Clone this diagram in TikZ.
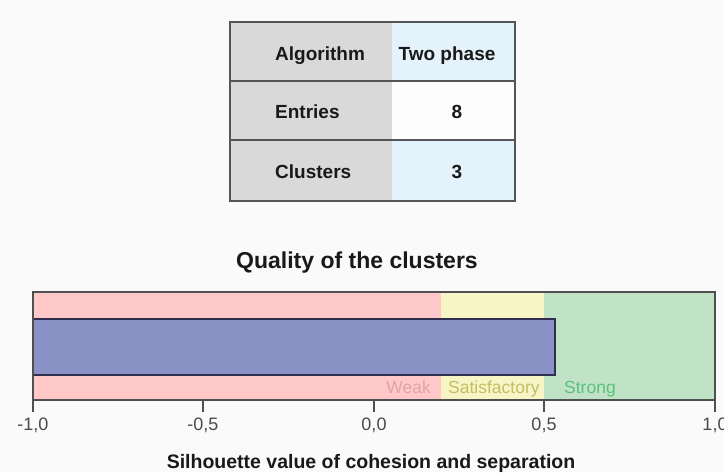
\documentclass[tikz,border=0pt]{standalone}
\usepackage{fontspec}
\setmainfont{Liberation Sans}
\definecolor{bg}{HTML}{FAFAFA}
\definecolor{cellgrey}{HTML}{D9D9D9}
\definecolor{cellblue}{HTML}{E4F2FB}
\definecolor{cellwhite}{HTML}{FDFDFD}
\definecolor{tborder}{HTML}{555555}
\definecolor{weakfill}{HTML}{FFC9C9}
\definecolor{satfill}{HTML}{F7F5C6}
\definecolor{strongfill}{HTML}{C0E3C8}
\definecolor{barfill}{HTML}{8A91C5}
\definecolor{barline}{HTML}{2E2E4E}
\definecolor{axisline}{HTML}{505050}
\definecolor{weaktext}{HTML}{E2A2AA}
\definecolor{sattext}{HTML}{C4BE62}
\definecolor{strongtext}{HTML}{5DC07C}
\definecolor{ticktext}{HTML}{4A4A4A}
\begin{document}
\begin{tikzpicture}[x=1pt,y=-1pt,
  celltext/.style={inner sep=0pt,font=\fontsize{19}{22}\selectfont\bfseries,text=black!90},
  zonetext/.style={inner sep=0pt,anchor=base,font=\fontsize{17.5}{21}\selectfont},
  ticklabel/.style={inner sep=0pt,anchor=base,font=\fontsize{18}{21}\selectfont,text=ticktext},
  tickmark/.style={draw=axisline,line width=1.6pt},
  headline/.style={inner sep=0pt,anchor=base,font=\bfseries,text=black!90}]
\fill[bg] (0,0) rectangle (724,472);
\useasboundingbox (0,0) rectangle (724,472);
% ---- table ----
\fill[cellgrey] (230,22) rectangle (392,201);
\fill[cellblue] (392,22) rectangle (515,81);
\fill[cellwhite] (392,81) rectangle (515,140);
\fill[cellblue] (392,140) rectangle (515,201);
\draw[tborder,line width=1.6pt] (230,81) -- (515,81);
\draw[tborder,line width=1.6pt] (230,140) -- (515,140);
\draw[tborder,line width=1.8pt] (230,22) rectangle (515,201);
\node[celltext,anchor=base west] (alg) at (275,60) {Algorithm};
\node[celltext,anchor=base] (algv) at (447,60) {Two phase};
\node[celltext,anchor=base west] (ent) at (275,118) {Entries};
\node[celltext,anchor=base] (entv) at (457,118) {8};
\node[celltext,anchor=base west] (clu) at (275,178) {Clusters};
\node[celltext,anchor=base] (cluv) at (457,178) {3};
% ---- chart ----
\node[headline,font=\fontsize{23}{27}\selectfont\bfseries] (title) at (357,268) {Quality of the clusters};
\fill[weakfill] (33,292) rectangle (441,400);
\fill[satfill] (441,292) rectangle (544,400);
\fill[strongfill] (544,292) rectangle (715,400);
\draw[barline,line width=1.3pt,fill=barfill] (33,319) rectangle (555,375);
\draw[axisline,line width=1.2pt] (33,292) rectangle (715,400);
\node[zonetext,anchor=base east,text=weaktext] (weak) at (431,393) {Weak};
\node[zonetext,anchor=base west,text=sattext] (sat) at (448,393) {Satisfactory};
\node[zonetext,anchor=base west,text=strongtext] (strong) at (564,393) {Strong};
% ticks
\foreach \v/\x/\lab in {m10/33/{-1,0}, m05/203/{-0,5}, z00/374/{0,0}, p05/544/{0,5}, p10/715/{1,0}}{
  \coordinate (t\v a) at (\x,400);
  \coordinate (t\v b) at (\x,412);
  \draw[tickmark] (t\v a) -- (t\v b);
  \node[ticklabel] (l\v) at (\x,430) {\lab};
}
\node[headline,font=\fontsize{19.5}{23}\selectfont\bfseries] (xlabel) at (371,468) {Silhouette value of cohesion and separation};
\end{tikzpicture}
\end{document}
